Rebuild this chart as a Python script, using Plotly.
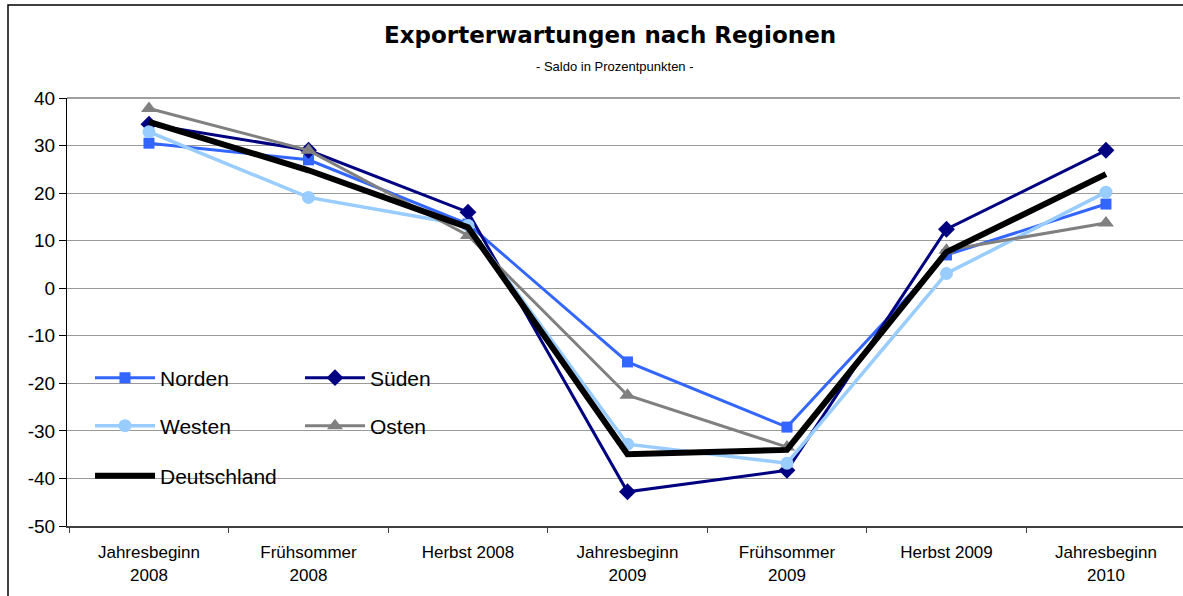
import plotly.graph_objects as go

categories = ["Jahresbeginn<br>2008", "Frühsommer<br>2008", "Herbst 2008",
              "Jahresbeginn<br>2009", "Frühsommer<br>2009", "Herbst 2009",
              "Jahresbeginn<br>2010"]
norden = [30.5, 27, 13.5, -15.5, -29.2, 7, 17.7]
sueden = [34.5, 29, 16, -42.8, -38.3, 12.4, 29]
westen = [32.9, 19.1, 13.2, -32.8, -36.8, 3.1, 20.2]
osten = [37.8, 29, 11.1, -22.5, -33.4, 8, 13.7]
deutschland = [35, 24.8, 12.8, -34.9, -34, 7.6, 24]
y_ticks = [-50, -40, -30, -20, -10, 0, 10, 20, 30, 40]
y_ticktext = ["-50", "-40", "-30", "-20", "-10", "0", "10", "20", "30", "40"]

W, H = 1183, 596
L, R, T, B = 67, 0, 98, 70
pw, ph = W - L - R, H - T - B

def px(x):
    return (x - L) / pw

def py(y):
    return (H - B - y) / ph

fig = go.Figure()
fig.add_trace(go.Scatter(x=categories, y=norden, name="Norden", mode="lines+markers",
                         line=dict(color="#3366FF", width=3),
                         marker=dict(symbol="square", size=11, color="#3366FF"), legend="legend"))
fig.add_trace(go.Scatter(x=categories, y=sueden, name="Süden", mode="lines+markers",
                         line=dict(color="#000080", width=3),
                         marker=dict(symbol="diamond", size=13, color="#000080"), legend="legend"))
fig.add_trace(go.Scatter(x=categories, y=westen, name="Westen", mode="lines+markers",
                         line=dict(color="#99CCFF", width=3.5),
                         marker=dict(symbol="circle", size=13, color="#99CCFF"), legend="legend2"))
fig.add_trace(go.Scatter(x=categories, y=osten, name="Osten", mode="lines+markers",
                         line=dict(color="#808080", width=3),
                         marker=dict(symbol="triangle-up", size=14, color="#808080"), legend="legend2"))
fig.add_trace(go.Scatter(x=categories, y=deutschland, name="Deutschland", mode="lines",
                         line=dict(color="#000000", width=6), legend="legend3"))

leg_common = dict(xref="paper", yref="paper", xanchor="left", yanchor="middle",
                  orientation="h", bgcolor="rgba(0,0,0,0)", entrywidth=135,
                  font=dict(family="Liberation Sans, Arial, sans-serif", size=21, color="#000"),
                  itemwidth=60, tracegroupgap=0)

fig.update_layout(
    width=W, height=H,
    margin=dict(l=L, r=R, t=T, b=B, autoexpand=False),
    paper_bgcolor="white", plot_bgcolor="white",
    showlegend=True,
    legend=dict(x=px(90), y=py(378), **leg_common),
    legend2=dict(x=px(90), y=py(426), **leg_common),
    legend3=dict(x=px(90), y=py(476), **leg_common),
    xaxis=dict(type="category", range=[-0.514, 6.483], showgrid=False,
               showline=True, linecolor="#404040", linewidth=2,
               ticks="outside", ticklen=5, tickcolor="#404040", tickson="boundaries",
               tickfont=dict(family="Liberation Sans, Arial, sans-serif", size=17, color="#000"),
               ticklabelstandoff=10),
    yaxis=dict(range=[-50, 40], tickvals=y_ticks, ticktext=y_ticktext, showgrid=True,
               gridcolor="#9a9a9a", gridwidth=1, zeroline=False, showline=True,
               linecolor="#000", linewidth=1, ticks="outside", ticklen=7, tickcolor="#000",
               tickfont=dict(family="Liberation Sans, Arial, sans-serif", size=19, color="#000")),
    shapes=[
        dict(type="rect", xref="paper", yref="paper", x0=px(70), x1=px(505),
             y0=py(500), y1=py(350), fillcolor="white", line=dict(width=0), layer="between"),
        dict(type="line", xref="paper", yref="paper", x0=0, x1=px(1180), y0=1, y1=1,
             line=dict(color="#a0a0a0", width=2)),
        dict(type="rect", xref="paper", yref="paper", x0=px(8), x1=px(1195),
             y0=py(605), y1=py(5), line=dict(color="#000", width=1.5),
             fillcolor="rgba(0,0,0,0)"),
    ],
    annotations=[
        dict(text="<b>Exporterwartungen nach Regionen</b>", xref="paper", yref="paper",
             x=px(610), y=py(35), xanchor="center", yanchor="middle", showarrow=False,
             font=dict(family="DejaVu Sans, sans-serif", size=23, color="#000")),
        dict(text="- Saldo in Prozentpunkten -", xref="paper", yref="paper",
             x=px(615), y=py(67), xanchor="center", yanchor="middle", showarrow=False,
             font=dict(family="Liberation Sans, Arial, sans-serif", size=13, color="#000")),
    ],
)

fig.write_html("out.html", config={"displayModeBar": False},
               post_script="document.body.style.margin='0';document.body.style.overflow='hidden';")
